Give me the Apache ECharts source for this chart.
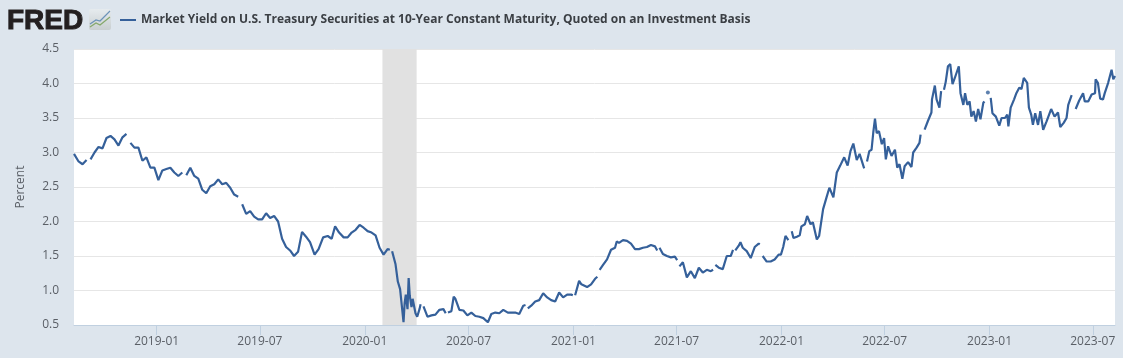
<!DOCTYPE html>
<html>
<head>
<meta charset="utf-8">
<style>
  html, body { margin: 0; padding: 0; background: #dde5ed; }
  #chart { width: 1123px; height: 358px; }
</style>
<script src="https://cdn.jsdelivr.net/npm/echarts@6/dist/echarts.min.js"></script>
</head>
<body>
<div id="chart"></div>
<script>
var seriesName = 'Market Yield on U.S. Treasury Securities at 10-Year Constant Maturity, Quoted on an Investment Basis'

// values, null = holiday gap in the line
var dates2018 = ['2018-08-09','2018-08-10','2018-08-17','2018-08-24','2018-08-31','2018-09-03','2018-09-07','2018-09-14','2018-09-21','2018-09-28','2018-10-05','2018-10-12','2018-10-19','2018-10-26','2018-11-02','2018-11-09','2018-11-12','2018-11-16','2018-11-23','2018-11-30','2018-12-07','2018-12-14','2018-12-21','2018-12-28']
var yields2018 = [2.98,2.96,2.87,2.83,2.89,null,2.90,3.00,3.08,3.06,3.21,3.24,3.19,3.10,3.22,3.27,null,3.14,3.07,3.07,2.88,2.93,2.78,2.78]

var dates2019 = ['2019-01-04','2019-01-11','2019-01-18','2019-01-25','2019-02-01','2019-02-08','2019-02-15','2019-02-18','2019-02-22','2019-03-01','2019-03-08','2019-03-15','2019-03-22','2019-03-29','2019-04-05','2019-04-12','2019-04-19','2019-04-26','2019-05-03','2019-05-10','2019-05-17','2019-05-24','2019-05-27','2019-05-31','2019-06-07','2019-06-14','2019-06-21','2019-06-28','2019-07-05','2019-07-12','2019-07-19','2019-07-26','2019-08-02','2019-08-09','2019-08-16','2019-08-23','2019-08-30','2019-09-06','2019-09-13','2019-09-20','2019-09-27','2019-10-05','2019-10-12','2019-10-20','2019-10-28','2019-11-04','2019-11-10','2019-11-17','2019-11-25','2019-12-02','2019-12-09','2019-12-16','2019-12-23','2019-12-30']
var yields2019 = [2.60,2.74,2.76,2.78,2.71,2.66,2.71,null,2.67,2.78,2.66,2.62,2.46,2.41,2.51,2.54,2.61,2.54,2.56,2.49,2.39,2.36,null,2.25,2.11,2.15,2.07,2.03,2.03,2.12,2.05,2.08,2.00,1.75,1.63,1.58,1.50,1.56,1.85,1.78,1.70,1.52,1.60,1.77,1.79,1.75,1.93,1.84,1.77,1.77,1.84,1.88,1.95,1.91]

var dates2020 = ['2020-01-06','2020-01-13','2020-01-20','2020-01-27','2020-02-03','2020-02-10','2020-02-14','2020-02-17','2020-02-18','2020-02-24','2020-02-28','2020-03-03','2020-03-09','2020-03-11','2020-03-13','2020-03-16','2020-03-18','2020-03-20','2020-03-23','2020-03-25','2020-03-30','2020-04-02','2020-04-06','2020-04-08','2020-04-10','2020-04-13','2020-04-20','2020-04-27','2020-05-04','2020-05-11','2020-05-18','2020-05-22','2020-05-25','2020-05-26','2020-06-01','2020-06-05','2020-06-08','2020-06-15','2020-06-22','2020-06-29','2020-07-06','2020-07-13','2020-07-20','2020-07-27','2020-08-04','2020-08-10','2020-08-17','2020-08-24','2020-08-31','2020-09-08','2020-09-14','2020-09-21','2020-09-28','2020-10-05','2020-10-09','2020-10-12','2020-10-13','2020-10-19','2020-10-26','2020-11-02','2020-11-09','2020-11-16','2020-11-23','2020-11-30','2020-12-07','2020-12-14','2020-12-21','2020-12-28','2020-12-31']
var yields2020 = [1.86,1.84,1.80,1.62,1.52,1.60,1.59,null,1.57,1.38,1.13,1.02,0.54,0.82,0.94,0.73,1.18,0.92,0.76,0.88,0.67,0.62,0.73,0.80,null,0.77,0.62,0.64,0.65,0.72,0.73,0.67,null,0.68,0.70,0.91,0.88,0.72,0.71,0.64,0.68,0.63,0.62,0.60,0.54,0.66,0.68,0.67,0.72,0.68,0.68,0.68,0.66,0.78,0.79,null,0.74,0.78,0.84,0.86,0.96,0.90,0.86,0.84,0.97,0.90,0.94,0.94,0.93]

var dates2021 = ['2021-01-01','2021-01-04','2021-01-11','2021-01-15','2021-01-25','2021-02-01','2021-02-08','2021-02-12','2021-02-15','2021-02-16','2021-02-22','2021-03-01','2021-03-08','2021-03-15','2021-03-18','2021-03-22','2021-03-29','2021-04-05','2021-04-12','2021-04-19','2021-04-26','2021-05-03','2021-05-10','2021-05-17','2021-05-24','2021-05-28','2021-05-31','2021-06-01','2021-06-07','2021-06-14','2021-06-21','2021-06-28','2021-07-02','2021-07-05','2021-07-06','2021-07-12','2021-07-19','2021-07-26','2021-08-02','2021-08-09','2021-08-16','2021-08-23','2021-08-30','2021-09-03','2021-09-06','2021-09-07','2021-09-13','2021-09-20','2021-09-27','2021-10-04','2021-10-08','2021-10-11','2021-10-12','2021-10-18','2021-10-21','2021-10-25','2021-11-01','2021-11-08','2021-11-15','2021-11-22','2021-11-24','2021-11-25','2021-11-29','2021-12-06','2021-12-13','2021-12-20','2021-12-27','2021-12-31']
var yields2021 = [null,0.93,1.14,1.09,1.05,1.09,1.17,1.20,null,1.30,1.37,1.45,1.59,1.62,1.71,1.69,1.73,1.72,1.68,1.60,1.60,1.62,1.63,1.66,1.64,1.58,null,1.62,1.53,1.50,1.48,1.49,1.44,null,1.35,1.41,1.19,1.28,1.18,1.33,1.26,1.30,1.28,1.30,null,1.37,1.33,1.31,1.50,1.50,1.59,null,1.58,1.65,1.70,1.62,1.57,1.47,1.63,1.68,1.67,null,1.50,1.42,1.42,1.45,1.52,1.52]

var dates2022 = ['2022-01-04','2022-01-08','2022-01-13','2022-01-17','2022-01-19','2022-01-22','2022-01-28','2022-02-02','2022-02-05','2022-02-11','2022-02-15','2022-02-21','2022-02-25','2022-03-04','2022-03-08','2022-03-15','2022-03-21','2022-03-26','2022-04-02','2022-04-08','2022-04-14','2022-04-21','2022-04-27','2022-05-02','2022-05-07','2022-05-13','2022-05-18','2022-05-26','2022-05-30','2022-05-31','2022-06-04','2022-06-08','2022-06-11','2022-06-14','2022-06-17','2022-06-21','2022-06-26','2022-06-30','2022-07-03','2022-07-07','2022-07-13','2022-07-19','2022-07-23','2022-07-27','2022-08-01','2022-08-05','2022-08-11','2022-08-17','2022-08-20','2022-08-26','2022-08-31','2022-09-02','2022-09-05','2022-09-09','2022-09-15','2022-09-21','2022-09-22','2022-09-27','2022-09-30','2022-10-05','2022-10-08','2022-10-10','2022-10-13','2022-10-16','2022-10-20','2022-10-24','2022-10-28','2022-11-01','2022-11-08','2022-11-11','2022-11-16','2022-11-19','2022-11-23','2022-11-27','2022-11-30','2022-12-04','2022-12-08','2022-12-12','2022-12-16','2022-12-21','2022-12-23','2022-12-26']
var yields2022 = [1.63,1.79,1.73,null,1.86,1.76,1.78,1.80,1.93,1.96,2.08,1.96,1.99,1.74,1.79,2.18,2.35,2.49,2.35,2.71,2.81,2.93,2.81,3.02,3.13,2.89,2.98,2.77,null,2.87,3.02,3.04,3.29,3.49,3.28,3.31,3.12,3.21,2.90,3.09,2.95,3.04,2.78,2.83,2.62,2.80,2.86,2.79,3.00,3.07,3.14,3.26,null,3.33,3.46,3.58,3.77,3.97,3.77,3.65,3.89,null,3.91,4.02,4.25,4.28,3.99,4.08,4.25,3.86,3.69,3.86,3.69,3.74,3.52,3.60,3.45,3.63,3.48,3.72,3.74,null]

// single observation standing on its own between two gaps
var loneDates = ['2022-12-29']
var loneYields = [3.87]

var dates2023 = ['2023-01-02','2023-01-03','2023-01-06','2023-01-12','2023-01-18','2023-01-22','2023-01-28','2023-02-01','2023-02-03','2023-02-07','2023-02-13','2023-02-17','2023-02-22','2023-02-26','2023-03-02','2023-03-08','2023-03-11','2023-03-15','2023-03-18','2023-03-22','2023-03-27','2023-03-31','2023-04-05','2023-04-11','2023-04-19','2023-04-25','2023-05-01','2023-05-05','2023-05-11','2023-05-16','2023-05-19','2023-05-25','2023-05-29','2023-06-01','2023-06-07','2023-06-14','2023-06-17','2023-06-23','2023-06-29','2023-07-05','2023-07-06','2023-07-10','2023-07-14','2023-07-19','2023-07-22','2023-07-28','2023-08-03','2023-08-06','2023-08-09']
var yields2023 = [null,3.79,3.57,3.52,3.39,3.50,3.50,3.55,3.38,3.65,3.77,3.86,3.94,3.92,4.08,4.01,3.65,3.55,3.40,3.57,3.40,3.60,3.33,3.45,3.63,3.52,3.58,3.37,3.43,3.50,3.69,3.83,null,3.63,3.75,3.86,3.74,3.74,3.84,3.86,4.06,4.01,3.78,3.77,3.86,4.01,4.20,4.06,4.11]

var recession = ['2020-02-01', '2020-04-01']
var xTicks = ['2019-01-01','2019-07-01','2020-01-01','2020-07-01','2021-01-01','2021-07-01','2022-01-01','2022-07-01','2023-01-01','2023-07-01']
var xStart = '2018-08-09'
var xEnd = '2023-08-09'

var allDates = dates2018.concat(dates2019, dates2020, dates2021, dates2022, dates2023)
var allYields = yields2018.concat(yields2019, yields2020, yields2021, yields2022, yields2023)

function toTime (s) {
  return new Date(s + 'T00:00:00Z').getTime()
}

function pairs (xs, ys) {
  var out = []
  for (var i = 0; i < xs.length; i++) {
    out.push([toTime(xs[i]), ys[i]])
  }
  return out
}

var font = '"Open Sans", sans-serif'
var lineColor = '#35609a'
var chart = echarts.init(document.getElementById('chart'))

var option = {
  animation: false,
  backgroundColor: '#dde5ed',
  textStyle: { fontFamily: font },
  legend: {
    left: 120,
    top: 14,
    padding: 0,
    itemGap: 0,
    itemWidth: 16,
    itemHeight: 2,
    icon: 'rect',
    selectedMode: false,
    data: [seriesName],
    textStyle: { fontFamily: font, fontSize: 12, fontWeight: 'bold', color: '#3b3f44' }
  },
  grid: { show: true, backgroundColor: '#ffffff', borderWidth: 0, left: 74, right: 8, top: 49, bottom: 33 },
  xAxis: {
    // plain value axis on timestamps, so the half-year ticks can be set exactly
    type: 'value',
    min: toTime(xStart),
    max: toTime(xEnd),
    axisLine: { lineStyle: { color: '#c0d0e0', width: 1 } },
    axisTick: { show: true, length: 10, lineStyle: { color: '#c0d0e0' }, customValues: xTicks.map(toTime) },
    splitLine: { show: false },
    axisLabel: {
      color: '#5a5f66',
      fontSize: 12,
      fontFamily: font,
      margin: 11,
      customValues: xTicks.map(toTime),
      formatter: function (v) { return new Date(v).toISOString().slice(0, 7) }
    }
  },
  yAxis: {
    type: 'value',
    min: 0.5,
    max: 4.5,
    interval: 0.5,
    name: 'Percent',
    nameLocation: 'middle',
    nameGap: 47,
    nameTextStyle: { color: '#5a5f66', fontSize: 12, fontFamily: font },
    axisLine: { show: false },
    axisTick: { show: false },
    splitLine: { lineStyle: { color: '#e6e6e6', width: 1 } },
    axisLabel: {
      color: '#5a5f66',
      fontSize: 12,
      fontFamily: font,
      margin: 15,
      padding: [2, 0, 0, 0],
      formatter: function (v) { return v.toFixed(1) }
    }
  },
  series: [
    {
      name: seriesName,
      type: 'line',
      data: pairs(allDates, allYields),
      showSymbol: false,
      connectNulls: false,
      color: lineColor,
      lineStyle: { color: lineColor, width: 2.2 },
      markArea: {
        silent: true,
        itemStyle: { color: '#e1e1e1' },
        data: [[{ xAxis: toTime(recession[0]) }, { xAxis: toTime(recession[1]) }]]
      }
    },
    {
      type: 'scatter',
      data: pairs(loneDates, loneYields),
      symbolSize: 4,
      itemStyle: { color: lineColor }
    }
  ],
  graphic: [
    { type: 'text', x: 7, y: 7, style: { text: 'FRED', fontFamily: '"Liberation Sans", sans-serif', fontWeight: 'bold', fontSize: 28, fill: '#231f20', stroke: '#231f20', lineWidth: 1 } },
    { type: 'rect', shape: { x: 89, y: 9, width: 22, height: 21, r: 2 }, style: { fill: new echarts.graphic.LinearGradient(0, 0, 0, 1, [{ offset: 0, color: '#e6ebee' }, { offset: 1, color: '#c9cfd1' }]) } },
    { type: 'polyline', shape: { points: [[90, 24], [96, 20], [100, 21], [105, 16], [110, 11]] }, style: { stroke: '#6c93b8', fill: null, lineWidth: 1.2 } },
    { type: 'polyline', shape: { points: [[90, 27], [96, 23], [100, 25], [105, 21], [110, 17]] }, style: { stroke: '#85a86b', fill: null, lineWidth: 1.2 } }
  ]
}

chart.setOption(option)
</script>
</body>
</html>
